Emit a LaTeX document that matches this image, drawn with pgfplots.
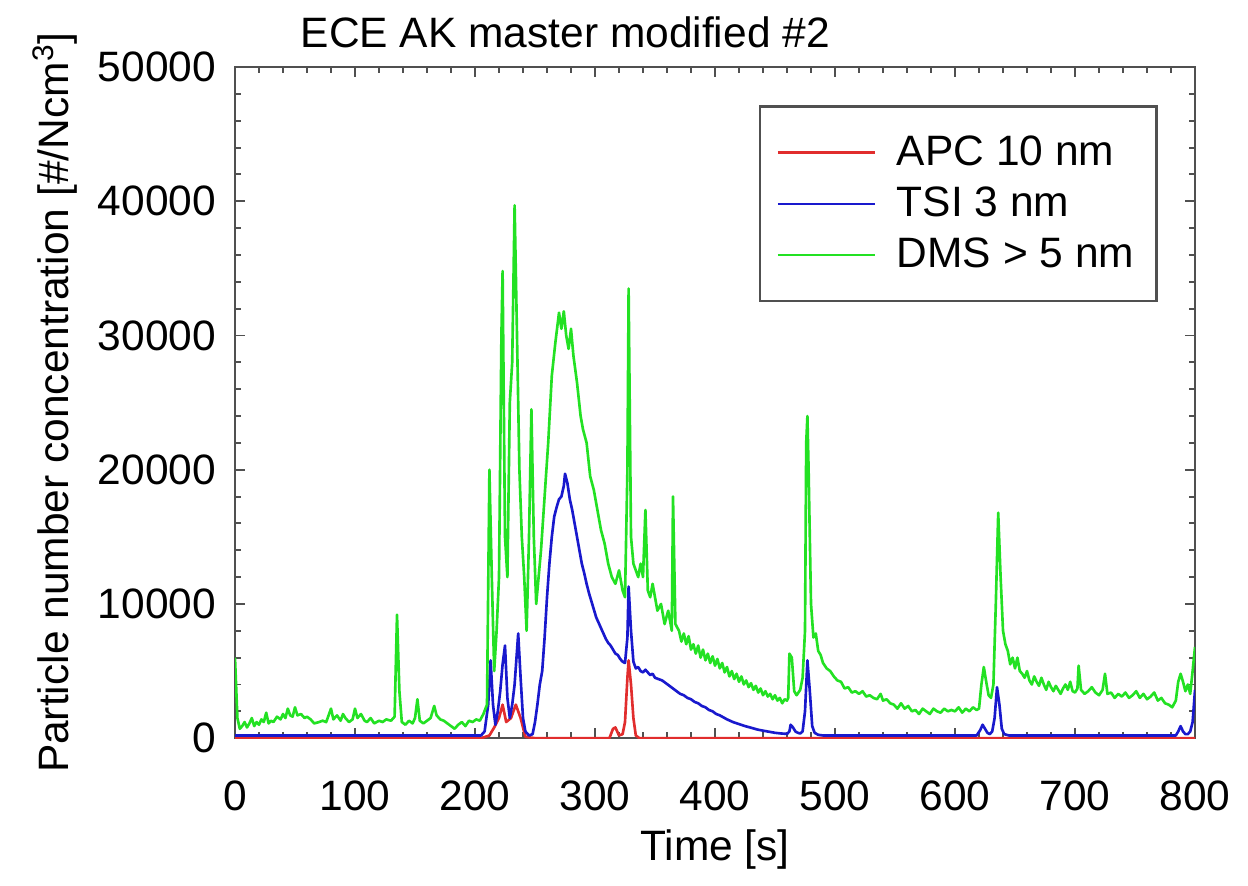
\documentclass[border=0pt]{standalone}
\usepackage{pgfplots}
\pgfplotsset{compat=1.18}
\usepackage{fontspec}
\setmainfont{Liberation Sans}
\definecolor{apc}{RGB}{225,45,45}
\definecolor{tsi}{RGB}{25,25,205}
\definecolor{dms}{RGB}{35,225,35}
\definecolor{axgray}{RGB}{80,80,80}
\begin{document}
\begin{tikzpicture}
\begin{axis}[
  scale only axis,
  width=345.6pt, height=241.6pt,
  xmin=0, xmax=800, ymin=0, ymax=50000,
  xtick={0,100,...,800}, ytick={0,10000,...,50000},
  minor x tick num=4, minor y tick num=4,
  tick align=inside,
  major tick length=3.6pt, minor tick length=2.2pt,
  axis line style={axgray, line width=0.8pt},
  every tick/.style={axgray, line width=0.7pt},
  scaled y ticks=false,
  /pgf/number format/assume math mode=true,
  /pgf/number format/1000 sep={},
  tick label style={font=\fontsize{15.3}{17}\selectfont},
  xticklabel style={yshift=-12pt},
  yticklabel style={xshift=-3.3pt},
  label style={font=\fontsize{15.3}{17}\selectfont},
  xlabel={Time [s]},
  ylabel={Particle number concentration [\#/Ncm$^{\mathrm{3}}$]},
  xlabel style={at={(axis description cs:0.5,-0.166)}, anchor=center},
  ylabel style={at={(axis description cs:-0.1875,0.5)}, anchor=center},
  clip mode=individual,
  legend cell align=left,
  legend style={at={(rel axis cs:0.961,0.943)}, anchor=north east,
    draw=axgray, line width=0.8pt, font=\fontsize{15.3}{17}\selectfont,
    inner xsep=6pt, inner ysep=8.6pt, row sep=2.2pt},
  legend image code/.code={\draw[#1, mark=none] (0pt,0pt) -- (35pt,0pt); \path (40.4pt,0pt);},
  every axis plot/.append style={line width=0.95pt, line join=round},
]
\addplot[apc] coordinates {
(0,0) (205,0) (212,200) (216,800) (220,1500) (223,2500) (226,1200) (230,1500) (234,2500) (238,1500) (242,100) (250,0)
(312,0) (315,700) (317,800) (320,200) (323,300) (325,1200) (327,4500) (328,5800) (330,4000) (332,1500) (334,200) (337,0) (800,0)
};
\addlegendentry{APC 10 nm}
\addplot[tsi] coordinates {
(0,200) (205,200) (208,500) (211,2500) (213,5800) (215,2500) (217,1000) (219,2000) (221,3500) (223,5500) (225,6900) (227,3000) (229,1500) (231,2500) (233,4000) (236,7800) (238,4500) (240,1500) (242,500) (245,200) (248,300) (250,1200) (252,2500) (254,4000) (256,5000) (258,7500) (260,10500) (262,13000) (264,15000) (266,16500) (268,17200) (270,17800) (272,18000) (274,18800) (275,19700) (277,19000) (279,17800) (281,17000) (283,16000) (285,15000) (287,14000) (289,13000) (291,12300) (293,11500) (295,10800) (297,10200) (299,9600) (301,9000) (303,8600) (305,8200) (307,7800) (309,7400) (311,7100) (313,6900) (315,6600) (317,6300) (319,6200) (321,5900) (323,5700) (325,5600) (327,7500) (328,11300) (330,8000) (332,5700) (334,5200) (336,5300) (338,5000) (340,4900) (342,5100) (344,4900) (346,4700) (348,4800) (350,4500) (353,4400) (356,4300) (359,4100) (362,3900) (365,3700) (368,3500) (371,3300) (374,3200) (377,3000) (380,2900) (383,2700) (386,2600) (389,2400) (392,2300) (395,2100) (398,2000) (401,1800) (404,1700) (407,1550) (410,1400) (415,1200) (420,1050) (425,900) (430,780) (435,650) (440,560) (445,480) (450,400) (455,350) (460,320) (462,500) (463,1000) (465,800) (467,500) (469,400) (471,350) (473,500) (475,2000) (477,5800) (479,3500) (481,900) (483,400) (486,250) (490,200) (618,200) (621,600) (623,1000) (625,700) (627,400) (629,300) (631,500) (633,1500) (635,3800) (637,2500) (639,700) (641,300) (645,200) (784,200) (786,500) (788,900) (790,500) (792,300) (794,300) (796,500) (798,1200) (800,3600)
};
\addlegendentry{TSI 3 nm}
\addplot[dms] coordinates {
(0,6000) (2,1500) (4,700) (6,900) (8,1200) (10,800) (12,1100) (14,1500) (16,900) (18,1200) (20,1000) (22,1400) (24,1200) (26,1900) (28,1100) (30,1300) (32,1200) (35,1600) (38,1400) (40,1800) (42,1500) (44,2200) (46,1700) (48,1600) (50,2300) (52,1700) (55,1800) (58,1500) (60,1600) (63,1400) (66,1100) (70,1200) (73,1300) (76,1200) (80,2200) (82,1400) (85,1700) (88,1300) (90,1800) (92,1500) (95,1200) (98,1400) (100,2200) (102,1500) (105,1800) (108,1300) (110,1200) (113,1500) (116,1100) (120,1300) (123,1200) (126,1400) (130,1300) (133,1600) (135,9200) (137,3500) (139,1200) (142,1000) (145,1300) (148,1100) (150,1500) (152,2900) (154,1300) (157,1100) (160,1300) (163,1500) (166,2400) (168,1700) (171,1400) (174,1300) (177,1100) (180,900) (183,700) (186,1000) (189,1200) (192,900) (195,1300) (198,1200) (201,1400) (204,1300) (207,1800) (210,2500) (212,20000) (214,12000) (216,5000) (218,8000) (220,12000) (222,30000) (223,34800) (225,15000) (227,12000) (229,25000) (231,28000) (233,39700) (235,30000) (237,20000) (239,15000) (241,12000) (243,8000) (245,15000) (247,24500) (249,15000) (251,10000) (253,12000) (255,14000) (258,18000) (261,22000) (264,27000) (267,29500) (270,31700) (272,30500) (274,31800) (276,30000) (278,29000) (280,30500) (282,28500) (285,26500) (288,24000) (290,23000) (293,22000) (296,19500) (299,18500) (302,17000) (305,15500) (308,14500) (311,13000) (314,12000) (317,11500) (320,12500) (323,11000) (325,10500) (327,20000) (328,33500) (330,15000) (332,13000) (334,12500) (336,12000) (338,13000) (340,12000) (342,17000) (344,11000) (346,10500) (348,11500) (350,10500) (352,9500) (355,10000) (358,8500) (361,9500) (364,8000) (365,18000) (367,8500) (370,8000) (372,7200) (374,7800) (376,7000) (378,7600) (380,6600) (382,7000) (384,6300) (386,6900) (388,6000) (390,6600) (392,5800) (394,6300) (396,5600) (398,6100) (400,5400) (402,5900) (404,5200) (406,5600) (408,4900) (410,5300) (412,4600) (414,5000) (416,4400) (418,4800) (420,4200) (422,4600) (424,4000) (426,4300) (428,3800) (430,4100) (432,3600) (434,3900) (436,3400) (438,3700) (440,3200) (442,3500) (444,3100) (446,3300) (448,2900) (450,3200) (452,2800) (454,3000) (456,2600) (458,2900) (460,2800) (461,3000) (462,6300) (464,6000) (466,3500) (468,3200) (471,3600) (473,4500) (475,8000) (476,22000) (477,24000) (478,20000) (480,10000) (482,7500) (484,7800) (486,6500) (488,6200) (490,5600) (493,5200) (496,5000) (499,4600) (502,4300) (505,4200) (508,3700) (511,3800) (514,3400) (517,3500) (520,3300) (523,3500) (526,3100) (529,3200) (532,3000) (535,2900) (538,3300) (540,2800) (543,2900) (546,2600) (549,2500) (552,2200) (555,2600) (558,2200) (561,2400) (564,2000) (567,2100) (570,1800) (573,2200) (576,2000) (579,1800) (582,2200) (585,2000) (588,1900) (591,2200) (594,2000) (597,2100) (600,2000) (603,2300) (606,1900) (609,2200) (612,2000) (615,2300) (618,2100) (620,2200) (622,4000) (624,5300) (626,4200) (628,3200) (630,3000) (632,4000) (634,10000) (636,16800) (638,12000) (640,8000) (642,7000) (644,6500) (646,5500) (648,6000) (650,5200) (652,6000) (654,5000) (656,4800) (658,4500) (660,5000) (662,4300) (664,4000) (666,4600) (668,4200) (670,3900) (672,4500) (674,4000) (676,3600) (678,4200) (680,3800) (682,3500) (684,3900) (686,3600) (688,3300) (690,3700) (692,4000) (694,3600) (696,4200) (698,3500) (700,3400) (702,3700) (703,5400) (705,3600) (708,3300) (711,3500) (714,3800) (717,3400) (720,3200) (723,3600) (725,4800) (727,3300) (730,3400) (733,3000) (736,3300) (739,3100) (742,3400) (745,3000) (748,3200) (751,3500) (754,3000) (757,3300) (760,2900) (763,3100) (766,3400) (769,2800) (772,3000) (775,2600) (778,2500) (781,2300) (784,2800) (786,4200) (788,4800) (790,4200) (792,3500) (794,4000) (796,3300) (798,5000) (800,6800)
};
\addlegendentry{DMS > 5 nm}
\node[anchor=base, font=\fontsize{15.3}{17}\selectfont] at ([yshift=7pt]rel axis cs:0.344,1) {ECE AK master modified \#2};
\coordinate (bbl) at (rel axis cs:-0.2448,-0.2191);
\coordinate (btr) at (rel axis cs:1.0552,1.0999);
\end{axis}
\path (bbl) rectangle (btr);
\end{tikzpicture}
\end{document}
